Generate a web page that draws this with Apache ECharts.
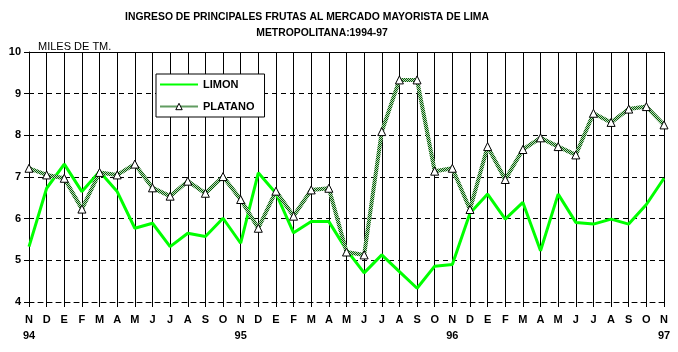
<!DOCTYPE html>
<html>
<head>
<meta charset="utf-8">
<script src="https://cdn.jsdelivr.net/npm/echarts@6/dist/echarts.min.js"></script>
<style>
html, body { margin: 0; padding: 0; background: #fff; }
#chart { width: 678px; height: 352px; }
</style>
</head>
<body>
<div id="chart"></div>
<script>
var months = ['N', 'D', 'E', 'F', 'M', 'A', 'M', 'J', 'J', 'A', 'S', 'O',
              'N', 'D', 'E', 'F', 'M', 'A', 'M', 'J', 'J', 'A', 'S', 'O',
              'N', 'D', 'E', 'F', 'M', 'A', 'M', 'J', 'J', 'A', 'S', 'O',
              'N'];
var years = {0: '94', 12: '95', 24: '96', 36: '97'};

var limon = [5.33, 6.73, 7.31, 6.65, 7.13, 6.65, 5.77, 5.89, 5.33, 5.65, 5.57, 6.01,
             5.41, 7.10, 6.61, 5.66, 5.93, 5.93, 5.25, 4.70, 5.13, 4.73, 4.33, 4.86,
             4.90, 6.13, 6.59, 5.99, 6.39, 5.23, 6.59, 5.91, 5.87, 5.99, 5.87, 6.34,
             6.97];
var platano = [7.21, 7.05, 6.97, 6.23, 7.11, 7.05, 7.31, 6.74, 6.54, 6.90, 6.61, 7.01,
               6.46, 5.77, 6.66, 6.06, 6.69, 6.73, 5.20, 5.13, 8.09, 9.33, 9.33, 7.14,
               7.21, 6.22, 7.73, 6.94, 7.66, 7.94, 7.73, 7.53, 8.53, 8.31, 8.63, 8.69,
               8.25];

var categories = months.map(function (m, i) {
    return years[i] ? m + '\n' + years[i] : m;
});

// patron a cuadros para la linea de platano
var makePattern = function () {
    var c = document.createElement('canvas');
    c.width = 2;
    c.height = 2;
    var ctx = c.getContext('2d');
    ctx.fillStyle = '#b9dcb9';
    ctx.fillRect(0, 0, 2, 2);
    ctx.fillStyle = '#0a5c0a';
    ctx.fillRect(0, 0, 1, 1);
    ctx.fillRect(1, 1, 1, 1);
    return c;
};

var myChart = echarts.init(document.getElementById('chart'));
var option = {
    backgroundColor: '#fff',
    animation: false,
    textStyle: { fontFamily: 'Liberation Sans, Arial, sans-serif' },
    title: [{
        text: 'INGRESO DE PRINCIPALES FRUTAS AL MERCADO MAYORISTA DE LIMA',
        left: 302, top: 7, textAlign: 'center',
        textStyle: { fontSize: 10.4, fontWeight: 'bold', color: '#000' }
    }, {
        text: 'METROPOLITANA:1994-97',
        left: 317, top: 23, textAlign: 'center',
        textStyle: { fontSize: 10.4, fontWeight: 'bold', color: '#000' }
    }, {
        text: 'MILES DE TM.',
        left: 33, top: 36,
        textStyle: { fontSize: 11, fontWeight: 'normal', color: '#000' }
    }],
    legend: {
        orient: 'vertical',
        left: 156,
        top: 74,
        padding: [5, 10, 5, 3],
        itemGap: 11,
        itemWidth: 38,
        itemHeight: 8,
        backgroundColor: '#fff',
        borderColor: '#000',
        borderWidth: 1,
        borderRadius: 0,
        textStyle: { fontSize: 11, fontWeight: 'bold', color: '#000' },
        data: [
            { name: 'LIMON', itemStyle: { opacity: 0 } },
            { name: 'PLATANO', itemStyle: { color: '#fff', borderColor: '#000', borderWidth: 1 } }
        ]
    },
    grid: { left: 29, right: 14, top: 52, bottom: 50 },
    xAxis: [{
        type: 'category',
        data: categories,
        boundaryGap: false,
        axisLine: { lineStyle: { color: '#000', type: [5, 4] } },
        axisTick: { length: 5, interval: 0, lineStyle: { color: '#000' } },
        axisLabel: {
            interval: 0, margin: 10, color: '#000',
            fontSize: 11, fontWeight: 'bold', lineHeight: 16
        },
        splitLine: { show: true, interval: 0, lineStyle: { color: '#000', width: 1 } }
    }, {
        type: 'category',
        position: 'top',
        data: categories,
        boundaryGap: false,
        axisLine: { lineStyle: { color: '#000' } },
        axisTick: { show: false },
        axisLabel: { show: false }
    }],
    yAxis: {
        type: 'value',
        min: 4,
        max: 10,
        interval: 1,
        axisLine: { show: true, lineStyle: { color: '#000' } },
        axisTick: { show: true, length: 5, lineStyle: { color: '#000' } },
        axisLabel: { color: '#000', fontSize: 11, fontWeight: 'bold', margin: 8 },
        splitLine: { lineStyle: { color: '#000', type: [5, 4] } }
    },
    series: [{
        name: 'LIMON',
        type: 'line',
        data: limon,
        symbol: 'none',
        lineStyle: { color: '#00ff00', width: 3 },
        itemStyle: { color: '#00ff00' },
        z: 3
    }, {
        name: 'PLATANO',
        type: 'line',
        data: platano,
        symbol: 'triangle',
        symbolSize: 8,
        showAllSymbol: true,
        lineStyle: { color: { image: makePattern(), repeat: 'repeat' }, width: 4 },
        itemStyle: { color: '#fff', borderColor: '#000', borderWidth: 1 },
        z: 4
    }]
};

myChart.setOption(option);
</script>
</body>
</html>
